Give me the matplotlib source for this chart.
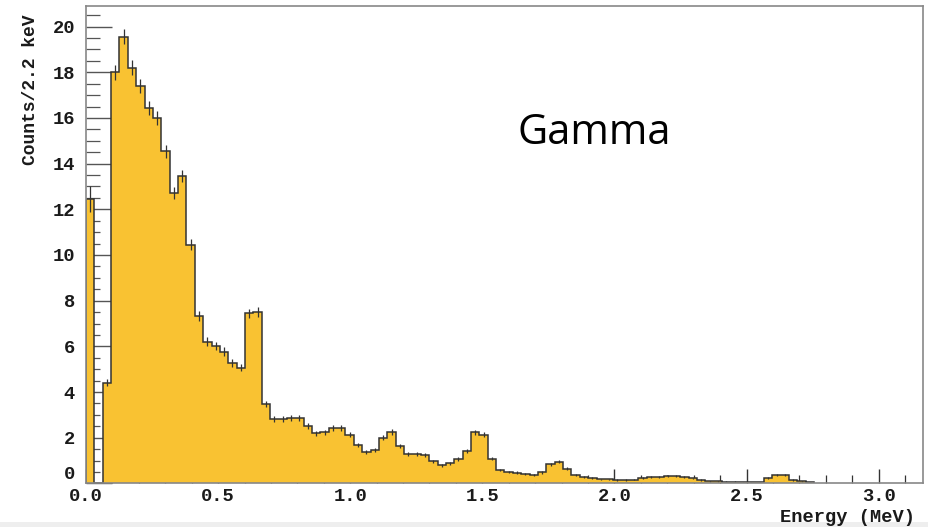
import numpy as np
import matplotlib
matplotlib.use("Agg")
import matplotlib.pyplot as plt
from matplotlib.ticker import MultipleLocator, FormatStrFormatter
from matplotlib.patches import Rectangle

# Gamma energy spectrum: counts per bin, first bin starting at 0 MeV
bin_width = 0.03168  # MeV
counts = [
    12.45, 0.0, 4.4, 18.0, 19.55, 18.2, 17.4, 16.45, 16.0, 14.55,
    12.7, 13.45, 10.45, 7.33, 6.21, 6.02, 5.77, 5.26, 5.07, 7.45,
    7.5, 3.47, 2.82, 2.82, 2.85, 2.85, 2.51, 2.19, 2.23, 2.42,
    2.42, 2.14, 1.68, 1.39, 1.46, 2.0, 2.25, 1.64, 1.29, 1.29,
    1.23, 0.97, 0.79, 0.88, 1.08, 1.43, 2.23, 2.12, 1.09, 0.59,
    0.51, 0.47, 0.42, 0.36, 0.48, 0.84, 0.95, 0.64, 0.38, 0.29,
    0.25, 0.18, 0.18, 0.15, 0.15, 0.17, 0.24, 0.28, 0.29, 0.34,
    0.34, 0.28, 0.22, 0.15, 0.10, 0.10, 0.08, 0.07, 0.05, 0.05,
    0.04, 0.25, 0.38, 0.36, 0.15, 0.10, 0.05,
]
x_ticks = [0.0, 0.5, 1.0, 1.5, 2.0, 2.5, 3.0]
y_ticks = [0, 2, 4, 6, 8, 10, 12, 14, 16, 18, 20]
x_label = "Energy (MeV)"
y_label = "Counts/2.2 keV"
title_text = "Gamma"

counts = np.asarray(counts)
edges = np.arange(len(counts) + 1) * bin_width
centers = 0.5 * (edges[:-1] + edges[1:])
# statistical uncertainty of weighted counts
errors = 0.075 * np.sqrt(counts)
errors[0] = 0.55

fill_color = "#F9C232"
line_color = "#333333"
text_color = "#1a1a1a"
mono = ["Liberation Mono", "DejaVu Sans Mono"]

fig = plt.figure(figsize=(9.29, 5.27), dpi=100)
ax = fig.add_axes([86.0 / 929, 43.6 / 527, (923.0 - 86.0) / 929, (483.4 - 6.0) / 527])

ax.stairs(counts, edges, fill=True, color=fill_color, zorder=2)
ax.stairs(counts, edges, fill=False, color=line_color, linewidth=1.1, zorder=3)
mask = counts > 0
ax.errorbar(centers[mask], counts[mask], yerr=errors[mask], fmt="none",
            ecolor=line_color, elinewidth=0.9, capsize=0, zorder=4)

ax.set_xlim(0, 3.168)
ax.set_ylim(0, 20.9)

ax.set_xticks(x_ticks)
ax.set_yticks(y_ticks)
ax.xaxis.set_major_formatter(FormatStrFormatter("%.1f"))
ax.xaxis.set_minor_locator(MultipleLocator(0.1))
ax.yaxis.set_minor_locator(MultipleLocator(0.5))

ax.tick_params(axis="x", which="major", direction="in", length=10, width=1.0,
               color="#333333", pad=3, top=False)
ax.tick_params(axis="x", which="minor", direction="in", length=5.5, width=0.9,
               color="#333333", top=False)
ax.tick_params(axis="y", which="major", direction="in", length=18.5, width=1.0,
               color="#555555", pad=8, right=False)
ax.tick_params(axis="y", which="minor", direction="in", length=10, width=0.9,
               color="#555555", right=False)

for lab in ax.get_xticklabels() + ax.get_yticklabels():
    lab.set_family(mono)
    lab.set_fontweight("bold")
    lab.set_fontsize(13.5)
    lab.set_color(text_color)
# the zero on the y axis sits a little above the axis corner
ax.get_yticklabels()[0].set_verticalalignment("bottom")

for sp in ax.spines.values():
    sp.set_color("#888888")
    sp.set_linewidth(1.2)
    sp.set_zorder(5)

fig.text(915 / 929, 1 - 517 / 527, x_label, ha="right", va="center",
         family=mono, fontweight="bold", fontsize=13.5, color=text_color)
fig.text(31 / 929, 1 - 90 / 527, y_label, ha="center", va="center", rotation=90,
         family=mono, fontweight="bold", fontsize=13, color=text_color)

ax.text(0.515, 0.735, title_text, transform=ax.transAxes, ha="left", va="center",
        family=["Open Sans", "DejaVu Sans"], fontsize=30, color="black")

fig.patches.append(Rectangle((0, 0), 1, 5 / 527, transform=fig.transFigure,
                             facecolor="#eeeeee", edgecolor="none", zorder=0))

fig.savefig("out.png", dpi=100)
